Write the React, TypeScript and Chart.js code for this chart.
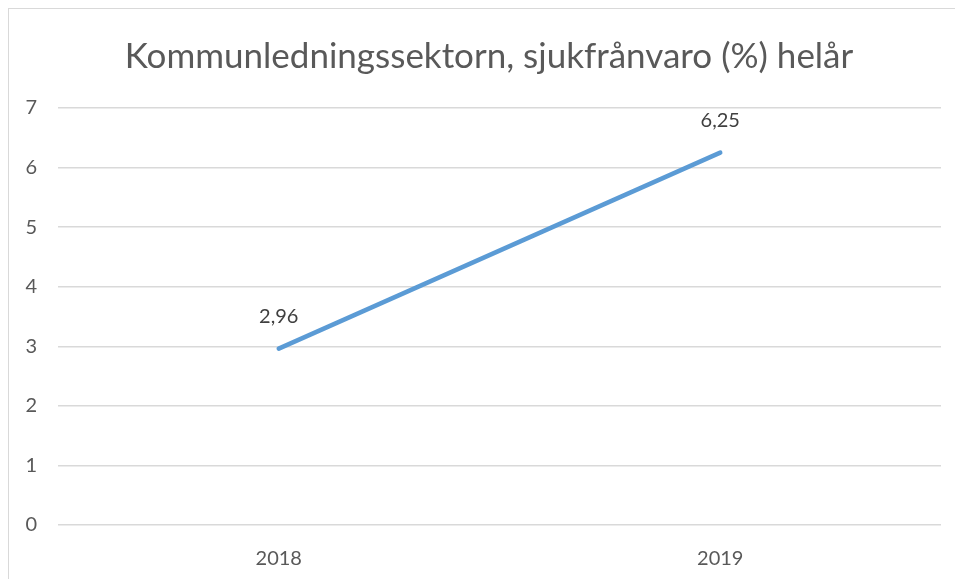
import React, { useEffect, useRef } from "react";
import { Chart, registerables } from "chart.js";

Chart.register(...registerables);

const titleText = "Kommunledningssektorn, sjukfrånvaro (%) helår";
const categories = ["2018", "2019"];
const values = [2.96, 6.25];
const valueLabels = ["2,96", "6,25"];
const yMin = 0;
const yMax = 7;

const FONT = "Lato, 'Noto Sans', sans-serif";

const dataLabelPlugin = {
  id: "dataLabels",
  afterDatasetsDraw(chart: any) {
    const ctx = chart.ctx;
    const meta = chart.getDatasetMeta(0);
    ctx.save();
    ctx.font = `20px ${FONT}`;
    ctx.fillStyle = "#404040";
    ctx.textAlign = "center";
    ctx.textBaseline = "middle";
    meta.data.forEach((pt: any, i: number) => {
      ctx.fillText(valueLabels[i], pt.x, pt.y - 32);
    });
    ctx.restore();
  },
};

export default function App() {
  const ref = useRef<HTMLCanvasElement | null>(null);
  useEffect(() => {
    if (!ref.current) return;
    const chart = new Chart(ref.current, {
      type: "line",
      data: {
        labels: categories,
        datasets: [
          {
            data: values,
            yAxisID: "y",
            borderColor: "#5B9BD5",
            borderWidth: 4.5,
            borderCapStyle: "round",
            pointRadius: 0,
            pointHoverRadius: 0,
            fill: false,
            tension: 0,
          },
        ],
      },
      options: {
        animation: false,
        responsive: false,
        maintainAspectRatio: false,
        layout: { padding: { top: 0, left: 0, right: 0, bottom: 20 } },
        plugins: {
          legend: { display: false },
          tooltip: { enabled: false },
          title: {
            display: true,
            text: titleText,
            color: "#595959",
            font: { family: FONT, size: 35, weight: "normal" },
            padding: { top: 26.8, bottom: 30.2 },
          },
        },
        scales: {
          x: {
            offset: true,
            grid: { display: false, drawTicks: false },
            border: { display: false },
            ticks: { color: "#595959", font: { family: FONT, size: 20 }, padding: 21.5 },
            afterFit: (s: any) => {
              s.height = 44;
            },
          },
          y: {
            min: yMin,
            max: yMax,
            grid: { color: "#d9d9d9", lineWidth: 1.5, drawTicks: false },
            border: { display: false },
            ticks: { stepSize: 1, color: "#595959", font: { family: FONT, size: 20 }, padding: 21 },
            afterFit: (s: any) => {
              s.width = 49;
            },
          },
          yRight: {
            position: "right",
            min: yMin,
            max: yMax,
            grid: { display: false, drawTicks: false },
            border: { display: false },
            ticks: { display: false },
            afterFit: (s: any) => {
              s.width = 28;
            },
          },
        },
      },
      plugins: [dataLabelPlugin],
    });
    return () => chart.destroy();
  }, []);
  return (
    <div style={{ position: "absolute", left: 8, top: 8, width: 947, height: 571, overflow: "hidden", background: "#fff" }}>
      <div style={{ width: 960, height: 580, border: "1px solid #d9d9d9", background: "#fff" }}>
        <canvas ref={ref} width={960} height={580} style={{ display: "block" }} />
      </div>
    </div>
  );
}
